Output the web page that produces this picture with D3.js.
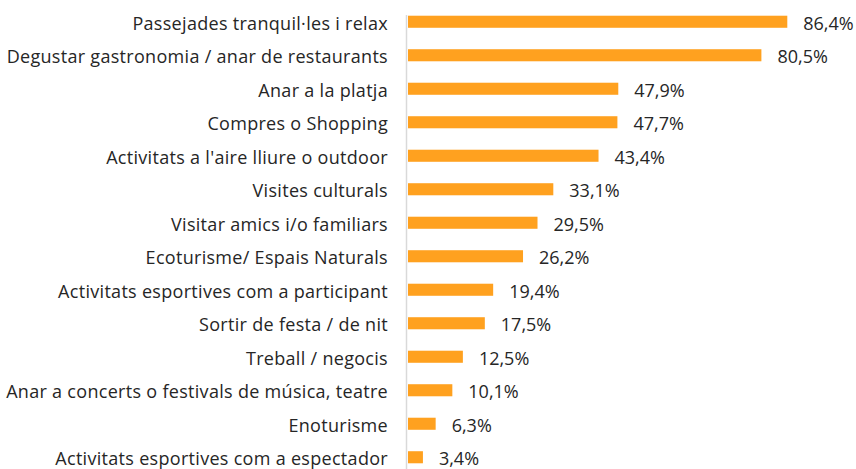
<!DOCTYPE html>
<html>
<head>
<meta charset="utf-8">
<script src="https://cdn.jsdelivr.net/npm/d3@7"></script>
<style>
  body { margin: 0; background: #fff; }
  text { font-family: "Open Sans", sans-serif; fill: #262626; }
</style>
</head>
<body>
<div id="chart"></div>
<script>
// data
var categories = [
  "Passejades tranquil·les i relax",
  "Degustar gastronomia / anar de restaurants",
  "Anar a la platja",
  "Compres o Shopping",
  "Activitats a l'aire lliure o outdoor",
  "Visites culturals",
  "Visitar amics i/o familiars",
  "Ecoturisme/ Espais Naturals",
  "Activitats esportives com a participant",
  "Sortir de festa / de nit",
  "Treball / negocis",
  "Anar a concerts o festivals de música, teatre",
  "Enoturisme",
  "Activitats esportives com a espectador"
];
var values = [86.4, 80.5, 47.9, 47.7, 43.4, 33.1, 29.5, 26.2, 19.4, 17.5, 12.5, 10.1, 6.3, 3.4];

var width = 856, height = 469;
var margin = {top: 5, right: 9, bottom: -5, left: 408};

var svg = d3.select("#chart")
  .append("svg")
  .attr("width", width)
  .attr("height", height);

var x = d3.scaleLinear()
  .domain([0, 100])
  .range([margin.left, width - margin.right]);

var y = d3.scaleBand()
  .domain(categories)
  .range([margin.top, height - margin.bottom])
  .paddingInner(0.64)
  .paddingOuter(0.32);

// axis line
svg.append("line")
  .attr("x1", 406.5).attr("x2", 406.5)
  .attr("y1", 15).attr("y2", height)
  .attr("stroke", "#d9d9d9")
  .attr("stroke-width", 1.5);

// bars
svg.selectAll("rect.bar")
  .data(values)
  .enter()
  .append("rect")
  .attr("class", "bar")
  .attr("x", x(0))
  .attr("y", (d, i) => y(categories[i]))
  .attr("width", d => x(d) - x(0))
  .attr("height", y.bandwidth())
  .attr("fill", "#FFA11F");

// category labels
svg.selectAll("text.cat")
  .data(categories)
  .enter()
  .append("text")
  .attr("class", "cat")
  .attr("x", 388)
  .attr("y", d => y(d) + y.bandwidth() / 2 + 8)
  .attr("text-anchor", "end")
  .style("font-size", "18px")
  .style("letter-spacing", "0.3px")
  .text(d => d);

// value labels
svg.selectAll("text.val")
  .data(values)
  .enter()
  .append("text")
  .attr("class", "val")
  .attr("x", d => x(d) + 16)
  .attr("y", (d, i) => y(categories[i]) + y.bandwidth() / 2 + 8)
  .style("font-size", "18px")
  .text(d => d.toFixed(1).replace(".", ",") + "%");
</script>
</body>
</html>
